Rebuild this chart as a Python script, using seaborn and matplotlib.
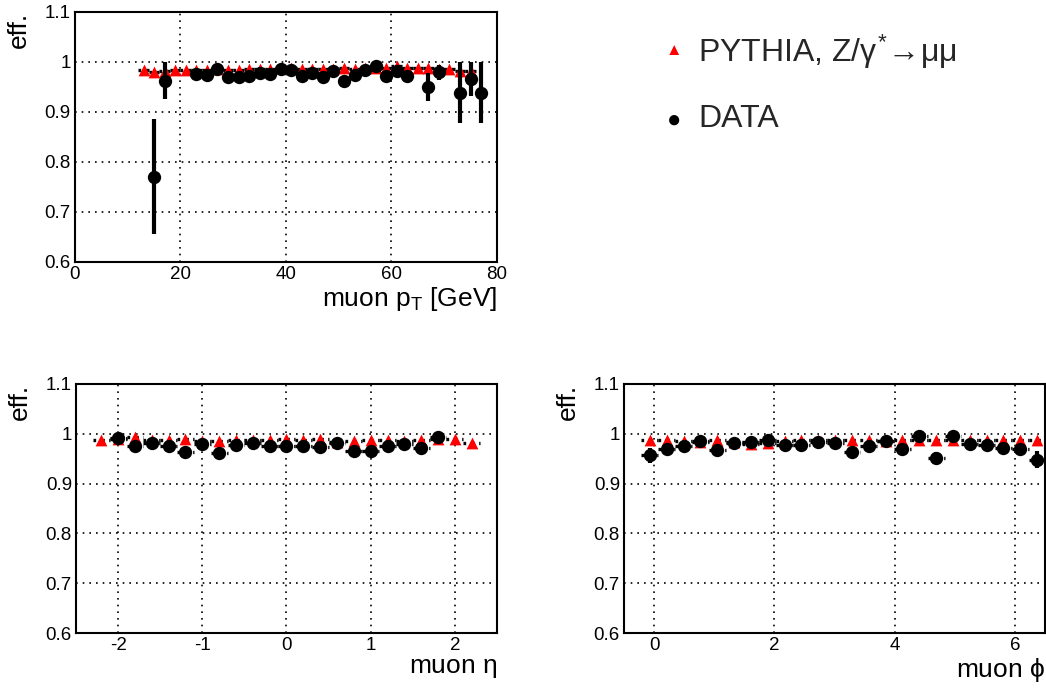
import numpy as np
import pandas as pd
import matplotlib
matplotlib.use("Agg")
import matplotlib.pyplot as plt
from matplotlib.ticker import MultipleLocator, FuncFormatter
import seaborn as sns

sns.set_style("white")
plt.rcParams['font.family'] = ['Liberation Sans', 'DejaVu Sans']
plt.rcParams['mathtext.fontset'] = 'custom'
plt.rcParams['mathtext.rm'] = 'Liberation Sans'
plt.rcParams['mathtext.it'] = 'Liberation Sans'

# ---------------- data: muon pT ----------------
pt_mc_x = [13, 15, 17, 19, 21, 23, 25, 27, 29, 31, 33, 35, 37, 39, 41, 43, 45, 47, 49,
           51, 53, 55, 57, 59, 61, 63, 65, 67, 69, 71, 73, 75]
pt_mc_y = [0.983, 0.979, 0.982, 0.984, 0.984, 0.983, 0.983, 0.985, 0.984, 0.984, 0.985,
           0.985, 0.986, 0.988, 0.987, 0.986, 0.986, 0.986, 0.985, 0.987, 0.986, 0.987,
           0.988, 0.987, 0.991, 0.987, 0.987, 0.987, 0.986, 0.985, 0.981, 0.981]
pt_data_x = [15, 17, 23, 25, 27, 29, 31, 33, 35, 37, 39, 41, 43, 45, 47, 49, 51, 53,
             55, 57, 59, 61, 63, 67, 69, 73, 75, 77]
pt_data_y = [0.770, 0.962, 0.976, 0.973, 0.985, 0.969, 0.969, 0.971, 0.977, 0.976,
             0.986, 0.983, 0.971, 0.977, 0.969, 0.981, 0.961, 0.973, 0.984, 0.991,
             0.971, 0.982, 0.971, 0.949, 0.979, 0.937, 0.965, 0.937]
pt_data_elo = [0.115, 0.037, 0.004, 0.004, 0.004, 0.004, 0.004, 0.004, 0.004, 0.004,
               0.004, 0.004, 0.004, 0.004, 0.004, 0.004, 0.005, 0.004, 0.004, 0.004,
               0.005, 0.005, 0.010, 0.028, 0.015, 0.060, 0.034, 0.060]
pt_data_ehi = [0.115, 0.038, 0.004, 0.004, 0.004, 0.004, 0.004, 0.004, 0.004, 0.004,
               0.004, 0.004, 0.004, 0.004, 0.004, 0.004, 0.005, 0.004, 0.004, 0.004,
               0.005, 0.005, 0.010, 0.028, 0.015, 0.063, 0.035, 0.063]

# ---------------- data: muon eta ----------------
eta_mc_x = [-2.2, -2.0, -1.8, -1.6, -1.4, -1.2, -1.0, -0.8, -0.6, -0.4, -0.2, 0.0,
            0.2, 0.4, 0.6, 0.8, 1.0, 1.2, 1.4, 1.6, 1.8, 2.0, 2.2]
eta_mc_y = [0.987, 0.989, 0.993, 0.987, 0.988, 0.989, 0.986, 0.985, 0.987, 0.988,
            0.988, 0.989, 0.988, 0.989, 0.984, 0.985, 0.987, 0.988, 0.986, 0.988,
            0.989, 0.989, 0.982]
eta_data_x = [-2.0, -1.8, -1.6, -1.4, -1.2, -1.0, -0.8, -0.6, -0.4, -0.2, 0.0, 0.2,
              0.4, 0.6, 0.8, 1.0, 1.2, 1.4, 1.6, 1.8]
eta_data_y = [0.991, 0.975, 0.981, 0.975, 0.963, 0.980, 0.962, 0.977, 0.981, 0.975,
              0.975, 0.975, 0.973, 0.982, 0.966, 0.966, 0.975, 0.979, 0.971, 0.993]
eta_data_e = [0.005, 0.006, 0.005, 0.006, 0.006, 0.005, 0.006, 0.005, 0.005, 0.005,
              0.005, 0.005, 0.005, 0.005, 0.006, 0.006, 0.005, 0.005, 0.006, 0.005]

# ---------------- data: muon phi ----------------
phi_x = [-0.07, 0.21, 0.49, 0.77, 1.05, 1.33, 1.61, 1.89, 2.17, 2.45, 2.73, 3.01,
         3.29, 3.57, 3.85, 4.13, 4.41, 4.69, 4.97, 5.25, 5.53, 5.81, 6.09, 6.37]
phi_mc_y = [0.987, 0.988, 0.986, 0.983, 0.987, 0.984, 0.980, 0.981, 0.985, 0.987,
            0.987, 0.987, 0.988, 0.988, 0.986, 0.988, 0.987, 0.988, 0.987, 0.987,
            0.987, 0.988, 0.988, 0.988]
phi_data_y = [0.957, 0.969, 0.976, 0.985, 0.968, 0.981, 0.983, 0.988, 0.977, 0.978,
              0.983, 0.981, 0.963, 0.975, 0.985, 0.969, 0.995, 0.951, 0.995, 0.980,
              0.977, 0.971, 0.969, 0.948]
phi_data_e = [0.015, 0.007, 0.006, 0.005, 0.006, 0.005, 0.005, 0.005, 0.005, 0.005,
              0.005, 0.005, 0.006, 0.006, 0.005, 0.006, 0.005, 0.012, 0.005, 0.005,
              0.005, 0.006, 0.007, 0.017]

legend_labels = ["PYTHIA, Z/$\\gamma^{*}\\!\\rightarrow\\!\\mu\\mu$", "DATA"]
ylabel = "eff."

fig = plt.figure(figsize=(10.46, 6.88), dpi=100)
ax_pt = fig.add_axes([0.0717, 0.6192, 0.4034, 0.3634])
ax_eta = fig.add_axes([0.0727, 0.0799, 0.4024, 0.3620])
ax_phi = fig.add_axes([0.5966, 0.0799, 0.4024, 0.3620])

RED = "#ff0000"


def draw(ax, mc_x, mc_y, d_x, d_y, d_elo, d_ehi, halfbin):
    mc = pd.DataFrame({"x": mc_x, "y": mc_y})
    dd = pd.DataFrame({"x": d_x, "y": d_y})
    # horizontal bin-width bars (black, dotted look)
    for frame in (mc, dd):
        eb = ax.errorbar(frame["x"], frame["y"], xerr=halfbin, fmt="none",
                         ecolor="black", elinewidth=2.4, capsize=0, zorder=3)
        for lc in eb[2]:
            lc.set_linestyle((0.5, (1.3, 1.3)))
    sns.scatterplot(data=mc, x="x", y="y", ax=ax, marker="^", color=RED, s=72,
                    linewidth=0, zorder=4, legend=False)
    ax.errorbar(dd["x"], dd["y"], yerr=[d_elo, d_ehi], fmt="none", ecolor="black",
                elinewidth=3, capsize=0, zorder=5)
    sns.scatterplot(data=dd, x="x", y="y", ax=ax, marker="o", color="black", s=92,
                    linewidth=0, zorder=6, legend=False)


draw(ax_pt, pt_mc_x, pt_mc_y, pt_data_x, pt_data_y, pt_data_elo, pt_data_ehi, 1.0)
draw(ax_eta, eta_mc_x, eta_mc_y, eta_data_x, eta_data_y, eta_data_e, eta_data_e, 0.1)
draw(ax_phi, phi_x, phi_mc_y, phi_x, phi_data_y, phi_data_e, phi_data_e, 0.14)

fmt = FuncFormatter(lambda v, p: "%g" % round(v, 6))
setups = [
    (ax_pt, (0, 80), 20, 5, "muon p$_{\\rm T}$ [GeV]"),
    (ax_eta, (-2.5, 2.5), 1, 0.2, "muon $\\eta$"),
    (ax_phi, (-0.5, 6.5), 2, 0.5, "muon $\\phi$"),
]
for ax, xl, xmaj, xmin, xlabel in setups:
    ax.set_xlim(*xl)
    ax.set_ylim(0.6, 1.1)
    ax.xaxis.set_major_locator(MultipleLocator(xmaj))
    ax.xaxis.set_minor_locator(MultipleLocator(xmin))
    ax.yaxis.set_major_locator(MultipleLocator(0.1))
    ax.yaxis.set_minor_locator(MultipleLocator(0.02))
    ax.xaxis.set_major_formatter(fmt)
    ax.yaxis.set_major_formatter(fmt)
    ax.tick_params(axis="both", which="major", direction="in", length=8, width=1.2,
                   labelsize=13.5, color="black", labelcolor="black", pad=3)
    ax.tick_params(axis="both", which="minor", direction="in", length=4, width=1.2,
                   color="black")
    ax.tick_params(top=False, right=False, which="both")
    ax.grid(True, which="major", color="black", linestyle=(0, (1, 3)), linewidth=1.2)
    ax.set_axisbelow(True)
    for sp in ax.spines.values():
        sp.set_visible(True)
        sp.set_color("black")
        sp.set_linewidth(1.5)
    ax.set_xlabel(xlabel, fontsize=19, loc="right", labelpad=1, color="black")
    ax.set_ylabel(ylabel, fontsize=19, loc="top", labelpad=10, color="black")

# legend (figure-level, no frame)
fig.text(0.6444, 0.9273, "\u25B2", color=RED, fontsize=12, ha="center", va="center")
fig.text(0.6673, 0.9244, legend_labels[0], fontsize=23, ha="left", va="center")
fig.text(0.6440, 0.8240, "\u25CF", color="black", fontsize=17, ha="center", va="center")
fig.text(0.6673, 0.8270, legend_labels[1], fontsize=23, ha="left", va="center")

fig.savefig("out.png", dpi=100)
